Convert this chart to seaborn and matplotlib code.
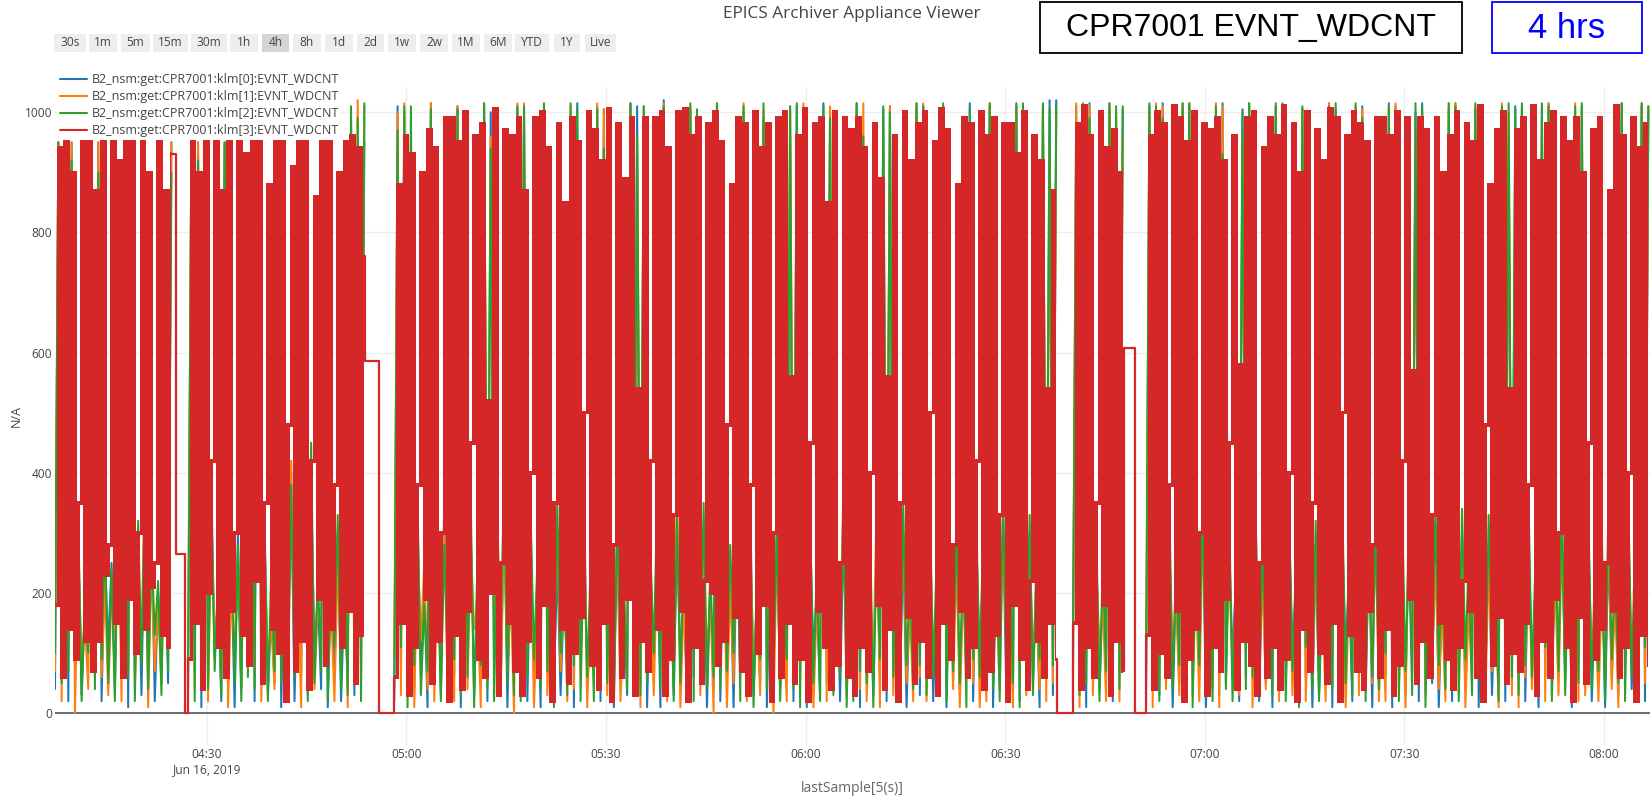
import numpy as np
import pandas as pd
import matplotlib
matplotlib.use("Agg")
import matplotlib.pyplot as plt
from matplotlib.patches import Rectangle
from matplotlib.lines import Line2D
import seaborn as sns

N = None
# Two archived samples per minute from 04:07:10: s1 at the minute, s2 30 s later
red_s1 = [180, 60, 140, 90, 950, 950, 870, 950, 280, 150,
          60, 190, 100, 950, 900, 250, 130, 110, N, N,
          90, 150, 40, 200, 950, 870, 950, 300, 130, 80,
          220, 50, 880, 950, 950, 480, 70, 120, 40, 860,
          950, 950, 380, 110, 170, 50, 130, N, N, N,
          N, 60, 150, 30, 110, 900, 970, 940, 300, 20,
          130, 40, 170, 960, 980, 520, 1005, 250, 150, 70,
          30, 120, 990, 1000, 940, 350, 140, 50, 100, 160,
          1000, 970, 920, 1005, 280, 60, 190, 30, 120, 70,
          990, 1000, 940, 330, 170, 20, 110, 50, 980, 1000,
          950, 480, 160, 70, 30, 1000, 940, 980, 300, 60,
          150, 50, 90, 20, 980, 990, 850, 1000, 250, 60,
          30, 110, 70, 980, 890, 560, 960, 350, 160, 50,
          120, 60, 950, 1005, 970, 280, 170, 60, 110, 1000,
          960, 990, 330, 20, 180, 90, 40, 960, 920, 540,
          870, N, N, 150, 40, 110, 60, 1000, 940, 970,
          900, N, N, N, 130, 40, 100, 60, 1010, 990,
          950, 1000, 300, 30, 110, 70, 190, 960, 580, 990,
          1000, 250, 60, 110, 40, 90, 980, 900, 1000, 350,
          100, 50, 150, 20, 960, 1000, 980, 950, 280, 60,
          140, 30, 80, 990, 570, 990, 970, 330, 150, 90,
          40, 110, 980, 950, 1010, 480, 80, 160, 50, 100,
          70, 150, 1010, 920, 980, 1000, 300, 110, 20, 160,
          50, 970, 990, 250, 170, 60, 110, 990, 940, 980]
red_s2 = [940, 950, 900, 350, 120, 70, 120, 230, 950, 920,
          950, 950, 300, 140, 210, 950, 870, 930, N, N,
          950, 900, 950, 420, 110, 60, 170, 950, 930, 950,
          950, 350, 140, 100, 20, 910, 950, 950, 420, 190,
          80, 140, 900, 950, 960, 940, 760, N, N, N,
          N, 880, 960, 930, 380, 190, 50, 120, 990, 990,
          950, 1000, 450, 90, 60, 200, 30, 970, 960, 990,
          870, 400, 60, 180, 20, 980, 850, 990, 950, 500,
          80, 40, 150, 20, 980, 890, 990, 540, 990, 420,
          140, 30, 90, 1000, 1005, 960, 990, 220, 200, 80,
          120, 880, 990, 980, 380, 100, 180, 20, 990, 1000,
          560, 960, 1005, 450, 170, 110, 40, 80, 990, 970,
          990, 940, 400, 180, 40, 140, 20, 1000, 920, 980,
          1000, 500, 30, 150, 90, 880, 990, 980, 420, 40,
          70, 130, 980, 980, 930, 1000, 220, 120, 60, 150,
          90, N, N, 980, 1010, 960, 350, 180, 30, 120,
          70, N, N, N, 960, 1000, 980, 380, 170, 20,
          90, 140, 980, 970, 990, 920, 450, 40, 120, 80,
          30, 940, 990, 960, 1010, 400, 20, 140, 70, 970,
          920, 1005, 990, 500, 130, 70, 40, 170, 990, 990,
          960, 1000, 420, 190, 50, 120, 60, 990, 900, 960,
          1000, 220, 170, 60, 20, 880, 970, 1000, 540, 970,
          990, 380, 30, 120, 60, 190, 990, 950, 990, 900,
          450, 90, 140, 870, 1010, 960, 400, 20, 130, 80]
blue_s1 = [40, 120, 20, 80, 30, 150, 60, 20, 110, 40,
           90, 10, 70, 30, 60, 20, 100, 50, N, N,
           30, 70, 10, 50, 90, 20, 60, 10, 40, 100,
           20, 70, 30, 50, 10, 80, 20, 60, 30, 90,
           40, 10, 70, 20, 50, 30, 80, N, N, N,
           N, 20, 80, 110, 40, 60, 10, 90, 30, 70,
           60, 10, 90, 30, 120, 20, 70, 40, 10, 110,
           80, 20, 60, 10, 100, 50, 30, 70, 10, 90,
           40, 110, 20, 80, 10, 60, 30, 100, 50, 10,
           70, 10, 50, 30, 90, 20, 60, 120, 10, 40,
           20, 90, 10, 60, 110, 30, 50, 10, 80, 40,
           60, 20, 70, 10, 100, 30, 50, 110, 20, 80,
           50, 10, 90, 30, 60, 20, 100, 40, 10, 70,
           30, 80, 20, 60, 10, 110, 40, 70, 20, 90,
           40, 10, 90, 30, 60, 20, 100, 50, 10, 80,
           30, N, N, 20, 80, 10, 60, 40, 100, 20,
           60, N, N, N, 20, 90, 30, 70, 10, 50,
           20, 60, 100, 10, 80, 30, 50, 90, 20, 60,
           90, 20, 50, 10, 70, 40, 110, 30, 60, 10,
           30, 80, 10, 60, 100, 20, 70, 40, 10, 90,
           60, 10, 90, 30, 70, 20, 110, 50, 10, 80,
           20, 70, 40, 100, 10, 60, 30, 90, 20, 50,
           40, 20, 80, 10, 60, 30, 90, 50, 10, 70,
           80, 20, 50, 10, 60, 30, 100, 40, 70, 20]
blue_s2 = [950, 950, 950, 300, 180, 950, 950, 260, 250, 300,
           950, 950, 280, 350, 300, 200, 300, 950, N, N,
           950, 950, 930, 380, 200, 950, 250, 300, 420, 950,
           950, 300, 180, 920, 280, 400, 250, 900, 380, 200,
           950, 220, 300, 200, 985, 900, 950, N, N, N,
           N, 1010, 1000, 920, 320, 200, 1015, 250, 350, 180,
           1010, 940, 300, 220, 1015, 1000, 300, 360, 250, 1005,
           1000, 300, 220, 1010, 260, 250, 200, 960, 1015, 380,
           200, 1010, 1005, 280, 300, 200, 1015, 1010, 990, 250,
           300, 1020, 240, 310, 200, 1005, 930, 280, 220, 1010,
           300, 250, 300, 1000, 350, 200, 990, 260, 300, 180,
           960, 1010, 940, 300, 200, 1015, 1000, 280, 300, 250,
           1015, 930, 250, 300, 1005, 1010, 300, 280, 200, 1010,
           1010, 340, 200, 940, 260, 300, 220, 1015, 280, 250,
           1010, 250, 320, 200, 1015, 960, 300, 220, 1005, 1020,
           1020, N, N, 1010, 940, 1015, 280, 200, 1010, 930,
           1005, N, N, N, 1010, 960, 1015, 300, 220, 1010,
           1010, 260, 340, 200, 950, 1015, 280, 220, 1005, 1015,
           300, 250, 300, 1010, 950, 310, 200, 1005, 240, 280,
           200, 1015, 1005, 300, 220, 960, 1010, 280, 350, 200,
           1015, 1010, 280, 300, 1000, 1015, 250, 300, 200, 1005,
           1015, 300, 200, 1005, 300, 280, 220, 1010, 950, 1010,
           1010, 300, 200, 1010, 1015, 260, 330, 250, 950, 1010,
           300, 200, 250, 280, 220, 1015, 300, 200, 1010, 1005]
orange_s1 = [70, 20, 160, 0, 90, 40, 180, 60, 30, 130,
             20, 80, 40, 110, 10, 70, 50, 160, N, N,
             110, 40, 80, 20, 130, 60, 10, 100, 40, 160,
             70, 20, 90, 40, 120, 30, 100, 10, 80, 40,
             130, 60, 20, 90, 10, 60, 40, N, N, N,
             N, 90, 30, 60, 10, 120, 40, 20, 100, 50,
             20, 80, 40, 140, 10, 60, 100, 30, 70, 0,
             50, 100, 10, 60, 30, 120, 70, 20, 40, 60,
             10, 70, 50, 30, 130, 20, 80, 40, 10, 110,
             30, 100, 20, 80, 10, 60, 140, 30, 90, 0,
             80, 10, 50, 120, 20, 70, 30, 100, 0, 60,
             20, 130, 40, 60, 10, 80, 20, 50, 100, 30,
             100, 40, 20, 80, 10, 60, 30, 120, 50, 20,
             60, 20, 100, 30, 80, 40, 10, 130, 50, 10,
             20, 70, 40, 110, 10, 60, 30, 90, 40, 20,
             50, N, N, 60, 10, 90, 30, 110, 20, 70,
             20, N, N, N, 80, 10, 60, 40, 100, 30,
             70, 30, 20, 120, 40, 10, 90, 60, 30, 100,
             10, 80, 40, 130, 20, 60, 30, 90, 20, 50,
             60, 20, 100, 40, 10, 90, 30, 120, 50, 20,
             20, 70, 40, 10, 100, 60, 30, 90, 40, 20,
             80, 30, 10, 50, 120, 20, 70, 10, 60, 30,
             10, 60, 40, 90, 20, 100, 30, 70, 40, 20,
             30, 110, 20, 70, 40, 10, 60, 90, 20, 50]
orange_s2 = [950, 930, 950, 260, 150, 950, 950, 220, 200, 350,
             920, 950, 250, 400, 250, 180, 320, 950, N, N,
             950, 950, 950, 300, 180, 950, 200, 260, 380, 950,
             900, 280, 150, 950, 240, 420, 220, 950, 400, 180,
             950, 180, 250, 350, 950, 1020, 1010, N, N, N,
             N, 1000, 1015, 960, 280, 250, 1015, 220, 300, 200,
             1010, 960, 280, 180, 1005, 960, 260, 320, 200, 1015,
             1015, 280, 180, 1005, 200, 300, 260, 1010, 920, 350,
             180, 1015, 1005, 240, 280, 160, 1010, 930, 1010, 220,
             250, 1015, 200, 380, 180, 1010, 970, 300, 200, 1015,
             260, 220, 380, 1015, 300, 180, 1005, 220, 280, 150,
             1010, 940, 1015, 250, 180, 950, 1010, 240, 380, 200,
             1005, 1015, 200, 350, 930, 1010, 260, 300, 180, 1015,
             1015, 300, 180, 1010, 220, 260, 200, 950, 300, 200,
             1015, 200, 300, 180, 1010, 950, 280, 200, 1010, 940,
             1000, N, N, 1015, 950, 1010, 250, 180, 1015, 1000,
             960, N, N, N, 1000, 1015, 1010, 280, 200, 1015,
             1015, 220, 300, 180, 1015, 1010, 250, 200, 960, 1010,
             260, 220, 350, 1010, 960, 300, 180, 1005, 200, 250,
             180, 1015, 940, 280, 200, 1010, 1005, 240, 300, 180,
             1010, 1015, 220, 350, 960, 1000, 220, 250, 180, 1015,
             1015, 300, 180, 1010, 260, 250, 200, 1015, 1000, 960,
             1010, 280, 180, 950, 1015, 220, 300, 200, 1015, 1005,
             250, 180, 200, 300, 200, 1010, 300, 180, 1015, 1010]
green_s1 = [100, 50, 70, 130, 20, 100, 40, 90, 50, 20,
            120, 60, 20, 80, 40, 130, 30, 70, N, N,
            60, 20, 100, 40, 70, 30, 120, 50, 20, 60,
            40, 110, 20, 70, 50, 20, 60, 140, 20, 50,
            70, 20, 110, 40, 30, 80, 20, N, N, N,
            N, 40, 110, 10, 80, 30, 70, 50, 20, 100,
            90, 30, 60, 10, 80, 40, 20, 120, 50, 30,
            20, 60, 90, 40, 70, 10, 100, 30, 80, 20,
            60, 20, 100, 50, 20, 90, 40, 70, 30, 50,
            100, 40, 70, 20, 50, 110, 20, 80, 40, 60,
            40, 70, 100, 20, 60, 10, 90, 40, 60, 20,
            90, 40, 10, 70, 50, 20, 120, 30, 60, 10,
            20, 70, 50, 10, 90, 40, 60, 20, 80, 40,
            80, 30, 60, 100, 20, 70, 50, 10, 90, 60,
            60, 40, 20, 80, 50, 10, 70, 30, 90, 60,
            80, N, N, 100, 30, 50, 120, 20, 70, 40,
            40, N, N, N, 50, 70, 20, 110, 40, 80,
            50, 10, 80, 60, 20, 100, 40, 20, 70, 40,
            60, 40, 100, 30, 80, 20, 70, 10, 110, 40,
            20, 110, 40, 80, 50, 30, 100, 20, 60, 40,
            100, 40, 20, 70, 30, 90, 10, 60, 80, 40,
            60, 20, 90, 30, 70, 40, 110, 20, 80, 60,
            30, 80, 60, 40, 110, 20, 70, 30, 90, 50,
            100, 40, 70, 20, 90, 50, 20, 60, 40, 110]
green_s2 = [950, 950, 920, 320, 200, 950, 900, 300, 240, 380,
            950, 880, 320, 380, 280, 220, 350, 900, N, N,
            950, 920, 950, 350, 230, 950, 320, 280, 450, 950,
            950, 320, 240, 950, 300, 380, 270, 950, 450, 230,
            920, 260, 330, 280, 1010, 990, 1015, N, N, N,
            N, 970, 1010, 1010, 350, 180, 1005, 300, 280, 240,
            1005, 950, 350, 260, 1015, 940, 320, 400, 300, 1010,
            1010, 330, 250, 1015, 280, 350, 280, 1015, 1005, 300,
            240, 1005, 940, 300, 330, 220, 1015, 960, 1010, 270,
            350, 1010, 280, 330, 260, 1015, 1005, 350, 240, 1015,
            320, 280, 400, 1010, 300, 230, 1015, 300, 320, 200,
            1010, 1015, 990, 330, 240, 1010, 990, 280, 350, 300,
            1015, 960, 320, 280, 1010, 1000, 300, 350, 230, 1015,
            1010, 360, 250, 1015, 300, 330, 280, 1005, 320, 300,
            1015, 280, 370, 260, 1010, 1015, 330, 250, 1015, 1005,
            1015, N, N, 960, 1015, 990, 320, 260, 1015, 1010,
            1010, N, N, N, 1015, 1010, 990, 350, 250, 1015,
            1015, 300, 350, 260, 1010, 930, 330, 240, 1000, 1015,
            320, 280, 400, 1015, 1015, 330, 240, 1010, 280, 320,
            240, 1010, 1015, 350, 260, 1015, 990, 300, 320, 230,
            1010, 960, 330, 280, 1015, 1010, 280, 350, 260, 1015,
            1010, 340, 260, 1015, 300, 330, 250, 1010, 1015, 1005,
            1015, 350, 240, 1015, 1010, 320, 360, 300, 1010, 1015,
            330, 260, 300, 350, 240, 1015, 350, 280, 1015, 1010]

# red trace holds values while the other PVs are disconnected
red_gap_times = ["04:25:22", "04:26:40", "04:53:46", "04:55:52",
                 "06:37:46", "06:47:52", "06:49:34"]
red_gap_values = [265, 0, 586, 0, 0, 607, 0]

series_names = ["B2_nsm:get:CPR7001:klm[0]:EVNT_WDCNT",
                "B2_nsm:get:CPR7001:klm[1]:EVNT_WDCNT",
                "B2_nsm:get:CPR7001:klm[2]:EVNT_WDCNT",
                "B2_nsm:get:CPR7001:klm[3]:EVNT_WDCNT"]
series_colors = ["#1f77b4", "#ff7f0e", "#2ca02c", "#d62728"]
buttons = ["30s", "1m", "5m", "15m", "30m", "1h", "4h", "8h", "1d", "2d",
           "1w", "2w", "1M", "6M", "YTD", "1Y", "Live"]
active_button = "4h"
y_ticks = [0, 200, 400, 600, 800, 1000]
x_tick_times = ["04:30", "05:00", "05:30", "06:00", "06:30", "07:00", "07:30", "08:00"]
x_tick_labels = ["04:30\nJun 16, 2019", "05:00", "05:30", "06:00",
                 "06:30", "07:00", "07:30", "08:00"]
DAY = "2019-06-16 "
T0 = pd.Timestamp(DAY + "04:07:10")
T_END = pd.Timestamp(DAY + "08:06:55")

# layout (pixels)
W, H = 1650, 800
button_cx = [70, 103, 135, 170, 209, 244, 275.5, 307, 339, 370.5, 402, 434.5,
             466, 498, 532, 567, 600.5]
button_w = [31, 28, 29, 35, 36, 28, 27, 27.5, 28, 27, 28, 28, 28, 28.5, 33.5, 26.5, 31]


def frame(s1, s2):
    rows, seg, gap = [], 0, False
    for m, (a, b) in enumerate(zip(s1, s2)):
        if a is None or b is None:
            if not gap:
                seg += 1
            gap = True
            continue
        gap = False
        rows.append((T0 + pd.Timedelta(minutes=m), float(a), seg))
        rows.append((T0 + pd.Timedelta(minutes=m + 0.5), float(b), seg))
    return pd.DataFrame(rows, columns=["time", "value", "seg"])


others = [frame(blue_s1, blue_s2), frame(orange_s1, orange_s2), frame(green_s1, green_s2)]
red = frame(red_s1, red_s2)

# red hold segments across the gaps, linked to the neighbouring samples
gap_t = pd.to_datetime([DAY + t for t in red_gap_times])
blocks = []
for t, v in zip(gap_t, red_gap_values):
    if blocks and not ((red["time"] > blocks[-1][-1][0]) & (red["time"] < t)).any():
        blocks[-1].append((t, v))
    else:
        blocks.append([(t, v)])
hold_rows = []
for b, pts in enumerate(blocks):
    before = red[red["time"] < pts[0][0]].iloc[-1]
    after = red[red["time"] > pts[-1][0]].iloc[0]
    seq = [(before["time"], before["value"])] + pts + [(after["time"], after["value"])]
    hold_rows += [(t, float(v), b) for t, v in seq]
holds = pd.DataFrame(hold_rows, columns=["time", "value", "seg"])

sns.set_theme(style="white")
plt.rcParams["font.family"] = ["Open Sans", "DejaVu Sans"]
plt.rcParams["path.simplify"] = False

fig = plt.figure(figsize=(W / 100, H / 100), dpi=100)
ax = fig.add_axes([55 / W, 1 - 745 / H, 1 - 55 / W, (745 - 87) / H])

for df, color in zip(others, series_colors[:3]):
    sns.lineplot(data=df, x="time", y="value", units="seg", estimator=None,
                 color=color, linewidth=1.45, ax=ax, legend=False, zorder=3)

# red step trace: each sample change is a vertical stroke between consecutive values
for _, seg_df in red.groupby("seg"):
    v = seg_df["value"].to_numpy()
    prev = np.concatenate([v[:1], v[:-1]])
    lo = np.minimum(prev, v) - 3
    hi = np.maximum(prev, v) + 3
    ax.fill_between(seg_df["time"].to_numpy(), lo, hi, step="mid",
                    color=series_colors[3], linewidth=0, zorder=4)
sns.lineplot(data=holds, x="time", y="value", units="seg", estimator=None,
             color=series_colors[3], linewidth=1.6, drawstyle="steps-post",
             ax=ax, legend=False, zorder=4)

ax.set_xlim(T0, T_END)
ax.set_ylim(-53, 1042)
ax.set_xticks(pd.to_datetime([DAY + t for t in x_tick_times]))
ax.set_xticklabels(x_tick_labels, linespacing=1.15)
ax.set_yticks(y_ticks)
ax.set_yticklabels([str(v) for v in y_ticks])
ax.grid(True, color="#eeeeee", linewidth=1)
ax.set_axisbelow(True)
for s in ax.spines.values():
    s.set_visible(False)
ax.axhline(0, color="#555555", linewidth=1.2, zorder=2)
ax.tick_params(axis="both", length=0, labelsize=8.6, labelcolor="#444444")
ax.tick_params(axis="y", pad=2)
ax.tick_params(axis="x", pad=2.5)
ax.set_xlabel("")
ax.set_ylabel("")

handles = [Line2D([0], [0], color=c, lw=1.5) for c in series_colors]
fig.legend(handles, series_names, loc="upper left",
           bbox_to_anchor=(57 / W, 1 - 71 / H), frameon=True, facecolor="white",
           edgecolor="none", framealpha=1.0, fontsize=9.0, labelcolor="#444444",
           handlelength=2.2, handletextpad=0.35, labelspacing=0.31,
           borderpad=0.2, borderaxespad=0)

fig.text(852 / W, 1 - 14 / H, "EPICS Archiver Appliance Viewer", ha="center",
         va="center", fontsize=12.3, color="#444444")
fig.text(852 / W, 1 - 789 / H, "lastSample[5(s)]", ha="center", va="center",
         fontsize=10, color="#666666")
fig.text(16 / W, 1 - 416 / H, "N/A", ha="center", va="center", rotation=90,
         fontsize=9, color="#444444")

for label, cx, bw in zip(buttons, button_cx, button_w):
    fc = "#d4d4d4" if label == active_button else "#eeeeee"
    fig.patches.append(Rectangle(((cx - bw / 2) / W, 1 - 52 / H), bw / W, 18 / H,
                                 transform=fig.transFigure, facecolor=fc,
                                 edgecolor="none"))
    fig.text(cx / W, 1 - 43 / H, label, ha="center", va="center", fontsize=8.6,
             color="#444444")

fig.patches.append(Rectangle((1040 / W, 1 - 53 / H), 422 / W, 51 / H,
                             transform=fig.transFigure, fill=False,
                             edgecolor="black", linewidth=1.3))
fig.text(1251 / W, 1 - 28 / H, "CPR7001 EVNT_WDCNT", ha="center", va="center",
         fontsize=23, color="black", family="Liberation Sans")
fig.patches.append(Rectangle((1492 / W, 1 - 53 / H), 150 / W, 51 / H,
                             transform=fig.transFigure, fill=False,
                             edgecolor="#0000ff", linewidth=1.3))
fig.text(1567 / W, 1 - 28 / H, "4 hrs", ha="center", va="center",
         fontsize=25, color="#0000ff", family="Liberation Sans")

fig.savefig("out.png", dpi=100)
